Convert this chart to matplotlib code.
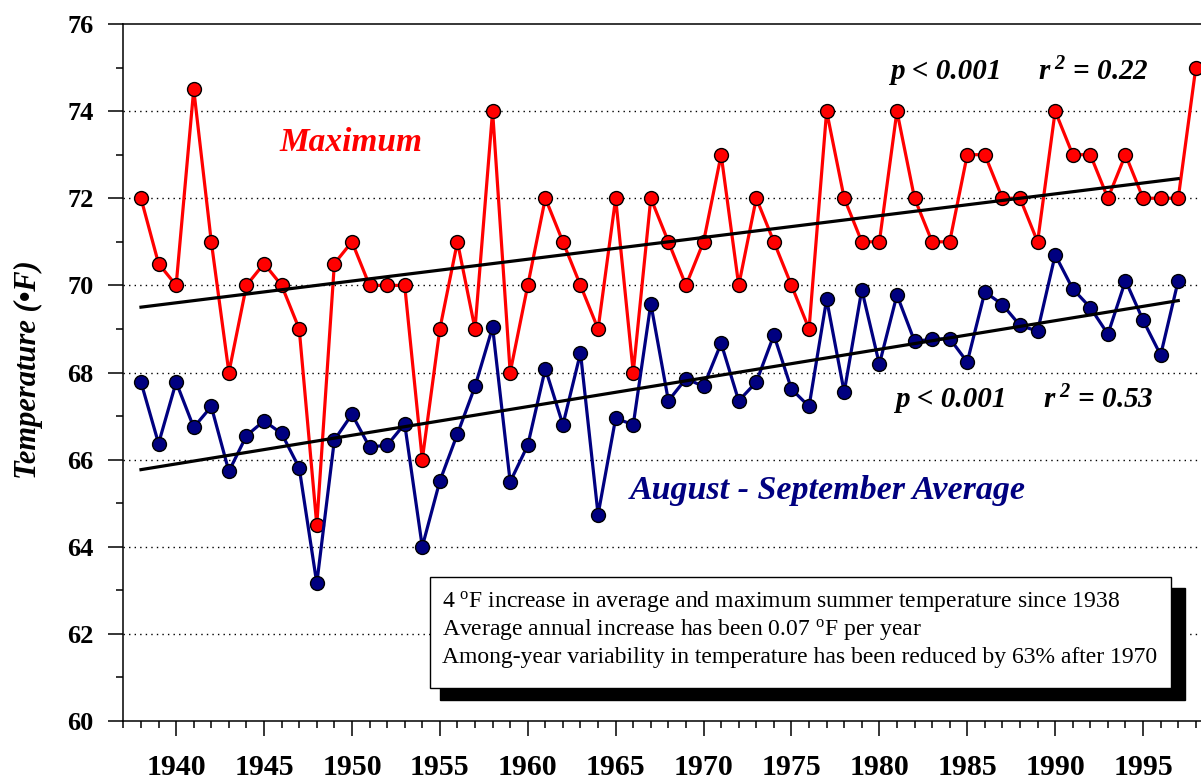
import numpy as np
import matplotlib.pyplot as plt
from matplotlib.patches import Rectangle

plt.rcParams['font.family'] = ['Liberation Serif', 'DejaVu Serif']
plt.rcParams['mathtext.fontset'] = 'custom'
plt.rcParams['mathtext.rm'] = 'Liberation Serif'
plt.rcParams['mathtext.it'] = 'Liberation Serif:italic'
plt.rcParams['mathtext.bf'] = 'Liberation Serif:bold:italic'

# data
years = np.arange(1938, 1999)
max_temp = [72, 70.5, 70, 74.5, 71, 68, 70, 70.5, 70, 69,
            64.5, 70.5, 71, 70, 70, 70, 66, 69, 71, 69,
            74, 68, 70, 72, 71, 70, 69, 72, 68, 72,
            71, 70, 71, 73, 70, 72, 71, 70, 69, 74,
            72, 71, 71, 74, 72, 71, 71, 73, 73, 72,
            72, 71, 74, 73, 73, 72, 73, 72, 72, 72,
            75]
avg_years = np.arange(1938, 1998)
avg_temp = [67.78, 66.37, 67.78, 66.74, 67.22, 65.73, 66.55, 66.89, 66.60, 65.81,
            63.16, 66.45, 67.04, 66.29, 66.33, 66.82, 64.00, 65.51, 66.59, 67.68,
            69.04, 65.49, 66.33, 68.09, 66.80, 68.45, 64.74, 66.95, 66.80, 69.58,
            67.35, 67.86, 67.68, 68.67, 67.35, 67.78, 68.86, 67.62, 67.22, 69.68,
            67.55, 69.90, 68.19, 69.78, 68.72, 68.76, 68.78, 68.24, 69.85, 69.56,
            69.08, 68.95, 70.70, 69.92, 69.49, 68.88, 70.11, 69.20, 68.40, 70.11]

# regression lines (end points as drawn)
trend_years = [1938, 1997]
max_trend = [69.5, 72.45]
avg_trend = [65.77, 69.65]

stats_max = ('p < 0.001', r'$\mathbf{r^{\ 2}}$ = 0.22')
stats_avg = ('p < 0.001', r'$\mathbf{r^{\ 2}}$ = 0.53')
notes = [r'4 $^{\mathrm{o}}$F increase in average and maximum summer temperature since 1938',
         r'Average annual increase has been 0.07 $^{\mathrm{o}}$F per year',
         'Among-year variability in temperature has been reduced by 63% after 1970']

W, H = 1201, 781
fig = plt.figure(figsize=(W / 100, H / 100), dpi=100)
# right edge of axes lies past the figure edge, like the cropped original
ax = fig.add_axes([123.4 / W, 60 / H, 1090 / W, 697 / H])

ax.plot(years, max_temp, color='#ff0000', lw=2.3, marker='o', ms=10,
        mfc='#ff0000', mec='black', mew=1, zorder=3)
ax.plot(avg_years, avg_temp, color='#000080', lw=2.3, marker='o', ms=10,
        mfc='#000080', mec='black', mew=1, zorder=3)
ax.plot(trend_years, max_trend, color='black', lw=2.3, zorder=4)
ax.plot(trend_years, avg_trend, color='black', lw=2.3, zorder=4)

ax.set_xlim(1937, 1999)
ax.set_ylim(60, 76)
ax.set_xticks(range(1940, 1999, 5))
ax.set_xticks(range(1937, 2000), minor=True)
ax.set_yticks(range(60, 77, 2))
ax.set_yticks(range(61, 76, 2), minor=True)

for lab in ax.get_yticklabels():
    lab.set_fontweight('bold')
    lab.set_fontsize(19)
for lab in ax.get_xticklabels():
    lab.set_fontweight('bold')
    lab.set_fontsize(21.5)
ax.tick_params(which='major', direction='out', length=10.5, width=1.1)
ax.tick_params(axis='y', which='major', pad=11)
ax.tick_params(axis='x', which='major', pad=13)
ax.tick_params(which='minor', direction='out', length=5, width=1.1)
for s in ax.spines.values():
    s.set_linewidth(1.1)

for v in range(62, 76, 2):
    ax.axhline(v, color='black', lw=1, linestyle=(0, (1, 3)), zorder=1)

ax.text(1945.9, 73.27, 'Maximum', color='#ff0000', fontsize=24,
        fontweight='bold', fontstyle='italic', va='center')
ax.text(1965.8, 65.3, 'August - September Average', color='#000080', fontsize=24.5,
        fontweight='bold', fontstyle='italic', va='center')
ax.text(1980.6, 74.9, stats_max[0], fontsize=21, fontweight='bold',
        fontstyle='italic', va='center')
ax.text(1989.0, 74.9, stats_max[1], fontsize=21, fontweight='bold',
        fontstyle='italic', va='center')
ax.text(1980.9, 67.37, stats_avg[0], fontsize=21, fontweight='bold',
        fontstyle='italic', va='center')
ax.text(1989.3, 67.37, stats_avg[1], fontsize=21, fontweight='bold',
        fontstyle='italic', va='center')

fig.text(28 / W, 1 - 370 / H, 'Temperature (\u2022F)', rotation=90,
         fontsize=22, fontweight='bold', fontstyle='italic', ha='center', va='center')


def box(x0, y0, x1, y1, **kw):
    # pixel corners measured from the top-left of the image
    return Rectangle((x0 / W, 1 - y1 / H), (x1 - x0) / W, (y1 - y0) / H,
                     transform=fig.transFigure, **kw)


fig.add_artist(box(440, 588, 1185, 700, facecolor='black', edgecolor='black', zorder=5))
fig.add_artist(box(430, 577, 1171, 688, facecolor='white', edgecolor='black', lw=1, zorder=6))
for i, line in enumerate(notes):
    fig.text(442 / W, 1 - [602, 630, 657][i] / H, line, fontsize=17,
             va='center', ha='left', zorder=7)

fig.savefig('out.png', dpi=100)
